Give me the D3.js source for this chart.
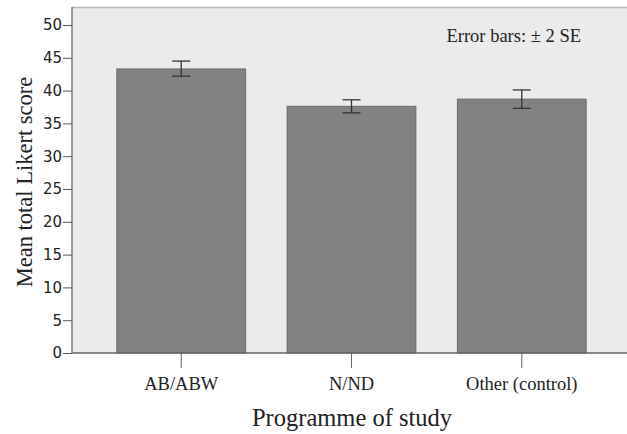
<!DOCTYPE html>
<html><head><meta charset="utf-8">
<script src="https://cdn.jsdelivr.net/npm/d3@7"></script>
<style>body{margin:0;background:#fff}svg{display:block}</style>
</head><body>
<script>
const categories = ["AB/ABW", "N/ND", "Other (control)"];
const means = [43.3, 37.6, 38.7];
const errLow = [42.2, 36.6, 37.3];
const errHigh = [44.5, 38.6, 40.1];
const yTicks = [0, 5, 10, 15, 20, 25, 30, 35, 40, 45, 50];

const W = 627, H = 434;
const plot = {left: 72, right: 627, top: 7, bottom: 353};
const serif = "Liberation Serif, Times New Roman, serif";

const svg = d3.select("body").append("svg").attr("width", W).attr("height", H);

const y = d3.scaleLinear().domain([0, 50]).range([plot.bottom, 25]);
const x = d3.scaleBand().domain(categories).range([76, 627]).paddingInner(0.244).paddingOuter(0.24);

svg.append("rect").attr("x", plot.left).attr("y", plot.top)
  .attr("width", plot.right - plot.left).attr("height", plot.bottom - plot.top)
  .attr("fill", "#ebebeb");
svg.append("line").attr("x1", plot.left).attr("x2", plot.right).attr("y1", plot.top + 0.5).attr("y2", plot.top + 0.5)
  .attr("stroke", "#b8b8b8").attr("stroke-width", 1.5);

svg.selectAll("rect.bar").data(categories).enter().append("rect").attr("class", "bar")
  .attr("x", d => x(d)).attr("width", x.bandwidth())
  .attr("y", (d, i) => y(means[i])).attr("height", (d, i) => y(0) - y(means[i]))
  .attr("fill", "#828282").attr("stroke", "#6a6a6a").attr("stroke-width", 1);

const eb = svg.append("g").attr("stroke", "#333").attr("stroke-width", 1.3);
categories.forEach((c, i) => {
  const cx = x(c) + x.bandwidth() / 2;
  eb.append("line").attr("x1", cx).attr("x2", cx).attr("y1", y(errLow[i])).attr("y2", y(errHigh[i]));
  eb.append("line").attr("x1", cx - 9).attr("x2", cx + 9).attr("y1", y(errLow[i])).attr("y2", y(errLow[i]));
  eb.append("line").attr("x1", cx - 9).attr("x2", cx + 9).attr("y1", y(errHigh[i])).attr("y2", y(errHigh[i]));
});

const yAxis = svg.append("g").attr("transform", `translate(${plot.left},0)`)
  .call(d3.axisLeft(y).tickValues(yTicks).tickSize(9).tickPadding(1).tickSizeOuter(0));
yAxis.select(".domain").attr("d", `M0,${plot.top}V${plot.bottom}`).attr("stroke", "#666").attr("stroke-width", 1.3);
yAxis.selectAll(".tick line").attr("stroke", "#555");
yAxis.selectAll(".tick text").attr("font-family", "DejaVu Sans, sans-serif").attr("font-size", 15).attr("fill", "#222");

const xAxis = svg.append("g").attr("transform", `translate(0,${plot.bottom})`)
  .call(d3.axisBottom(x).tickSize(15).tickPadding(9).tickSizeOuter(0));
xAxis.select(".domain").attr("d", `M${plot.left},0H${plot.right}`).attr("stroke", "#666").attr("stroke-width", 1.3);
xAxis.selectAll(".tick line").attr("stroke", "#666");
xAxis.selectAll(".tick text").attr("font-family", serif).attr("font-size", 18.5).attr("fill", "#222");

svg.append("text").attr("x", 352).attr("y", 426).attr("text-anchor", "middle")
  .attr("font-family", serif).attr("font-size", 24.5).attr("fill", "#222")
  .text("Programme of study");
svg.append("text").attr("transform", "translate(32,182) rotate(-90)").attr("text-anchor", "middle")
  .attr("font-family", serif).attr("font-size", 22.5).attr("fill", "#222")
  .text("Mean total Likert score");
svg.append("text").attr("x", 581).attr("y", 42).attr("text-anchor", "end")
  .attr("font-family", serif).attr("font-size", 18.5).attr("fill", "#222")
  .text("Error bars: ± 2 SE");
</script>
</body></html>
